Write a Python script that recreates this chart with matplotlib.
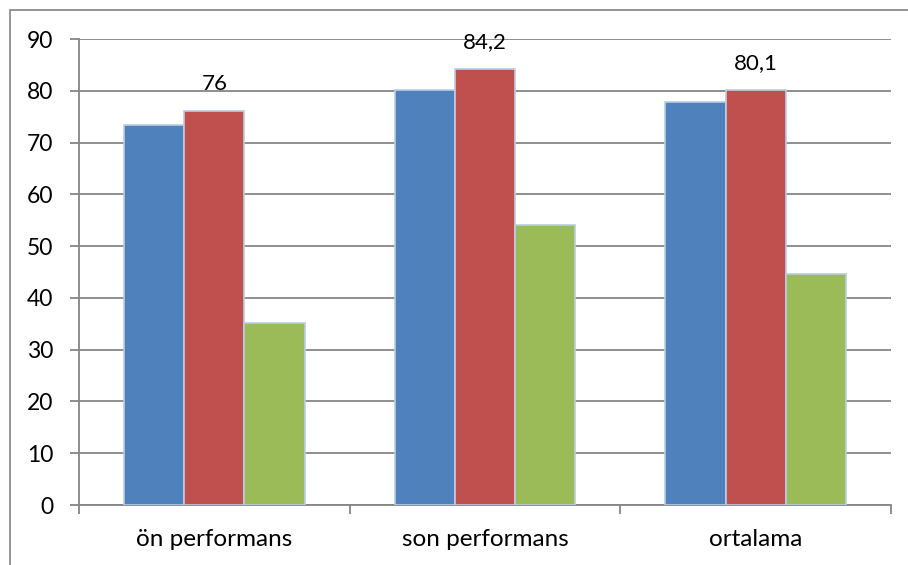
import matplotlib
matplotlib.use("Agg")
import matplotlib.pyplot as plt
import numpy as np
from matplotlib.patches import Rectangle

categories = ["ön performans", "son performans", "ortalama"]
series_blue = [73.4, 80.1, 77.9]
series_red = [76, 84.2, 80.1]
series_green = [35.1, 54.1, 44.6]
y_ticks = [0, 10, 20, 30, 40, 50, 60, 70, 80, 90]

colors = ["#4F81BD", "#C0504D", "#9BBB59"]
edge = "#B9CDE5"
grid_c = "#868686"

plt.rcParams["font.family"] = ["Lato", "DejaVu Sans"]

W, H = 908, 565
fig = plt.figure(figsize=(W / 100, H / 100), dpi=100)

# chart frame (left and top edges visible)
fig.patches.append(Rectangle((10 / W, -0.1), 1.2, (H - 10) / H + 0.1,
                             transform=fig.transFigure, fill=False,
                             edgecolor="#8C8C8C", linewidth=1.3))

ax = fig.add_axes([79 / W, (H - 505) / H, (891 - 79) / W, (505 - 39) / H])

x = np.arange(len(categories))
bw = 1 / 4.5
for i, (vals, c) in enumerate(zip([series_blue, series_red, series_green], colors)):
    bars = ax.bar(x + (i - 1) * bw, vals, width=bw, color=c, edgecolor=edge,
                  linewidth=1.2, zorder=3)
    if i == 1:
        for xi, v in zip(x + (i - 1) * bw, vals):
            txt = (f"{v:g}").replace(".", ",")
            ax.annotate(txt, (xi, v), xytext=(0, 19.5), textcoords="offset points",
                        ha="center", va="center", fontsize=16, color="black",
                        zorder=4)

ax.set_xlim(-0.5, 2.5)
ax.set_ylim(0, 90)
ax.set_yticks(y_ticks)
ax.set_yticklabels([str(t) for t in y_ticks], fontsize=16.5)
ax.set_xticks([-0.5, 0.5, 1.5, 2.5])
ax.set_xticklabels([])
ax.set_xticks(x, minor=True)
ax.set_xticklabels(categories, minor=True, fontsize=17.5)
ax.tick_params(axis="x", which="minor", length=0, pad=17)
ax.tick_params(axis="x", which="major", length=6.5, width=1.3, color=grid_c)
ax.tick_params(axis="y", length=6.5, width=1.3, color=grid_c, pad=12)

ax.yaxis.grid(True, color=grid_c, linewidth=1.3, zorder=0)
ax.set_axisbelow(True)
for s in ["top", "right"]:
    ax.spines[s].set_visible(False)
for s in ["left", "bottom"]:
    ax.spines[s].set_color(grid_c)
    ax.spines[s].set_linewidth(1.3)

fig.savefig("out.png", dpi=100)
